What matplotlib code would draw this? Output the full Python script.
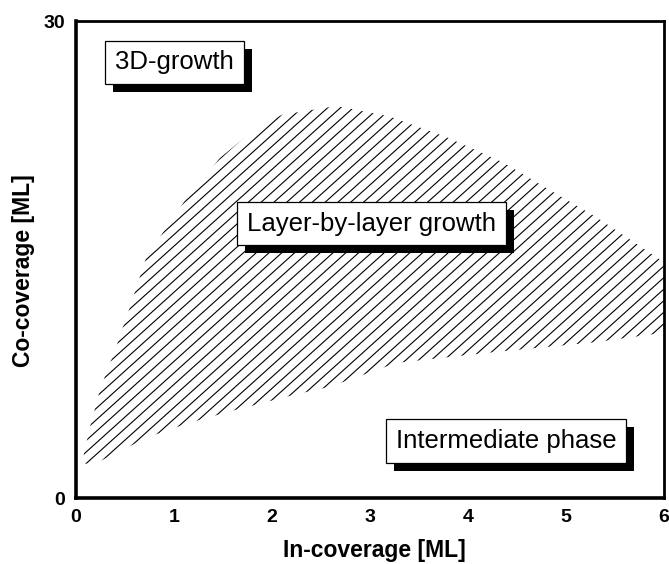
import numpy as np
import matplotlib
matplotlib.use('Agg')
import matplotlib.pyplot as plt
import matplotlib.patheffects as pe

# Layer-by-layer growth region, In-coverage vs Co-coverage in ML
upper_x = [0.06, 0.14, 0.24, 0.31, 0.40, 0.47, 0.55, 0.64, 0.72, 0.91, 1.11, 1.47, 1.85,
           2.10, 2.60, 2.70, 3.20, 3.78, 4.36, 4.77, 5.30, 5.96, 6.00]
upper_y = [2.2, 4.4, 6.7, 7.9, 9.3, 10.6, 12.0, 13.7, 15.2, 16.9, 18.7, 21.4, 23.3,
           24.1, 24.6, 24.6, 24.0, 22.7, 21.1, 19.6, 17.7, 15.0, 14.8]
lower_x = [0.06, 0.17, 0.47, 0.72, 1.14, 1.54, 2.23, 2.59, 3.27, 4.30, 5.30, 6.00]
lower_y = [2.2, 2.1, 3.0, 3.8, 4.7, 5.4, 6.5, 7.0, 8.5, 9.2, 9.8, 10.4]

x_ticks = [0, 1, 2, 3, 4, 5, 6]
y_ticks = [0, 30]

plt.rcParams['font.family'] = ['Liberation Sans', 'DejaVu Sans']

fig = plt.figure(figsize=(6.69, 5.64), dpi=100)
ax = fig.add_axes([0.1136, 0.117, 0.879, 0.8457])

# region outline used only as clip path for the hatching
poly_x = upper_x + lower_x[::-1]
poly_y = upper_y + lower_y[::-1]
region = ax.fill(poly_x, poly_y, facecolor='none', edgecolor='none')[0]

# hand-made hatching (~42 deg, ~13 px apart horizontally)
bb = ax.get_position()
w_px = bb.width * fig.get_figwidth() * fig.dpi
h_px = bb.height * fig.get_figheight() * fig.dpi
slope = np.tan(np.radians(42)) * w_px / h_px
step = slope * 12.8 / w_px
for c in np.arange(-1.3, 1.0, step):
    ln, = ax.plot([0, 1], [c, c + slope], color='black', lw=0.8,
                  transform=ax.transAxes)
    ln.set_clip_path(region)

ax.set_xlim(0, 6)
ax.set_ylim(0, 30)
ax.set_xticks(x_ticks)
ax.set_yticks(y_ticks)
ax.tick_params(length=0, labelsize=14)
ax.tick_params(axis='x', pad=8)
ax.tick_params(axis='y', pad=8)
for lab in ax.get_xticklabels() + ax.get_yticklabels():
    lab.set_fontweight('bold')

for side in ['left', 'bottom']:
    ax.spines[side].set_linewidth(2.6)
for side in ['top', 'right']:
    ax.spines[side].set_linewidth(2.0)

ax.set_xlabel('In-coverage [ML]', fontsize=16.5, fontweight='bold', va='center')
ax.set_ylabel('Co-coverage [ML]', fontsize=16.5, fontweight='bold', va='center')
ax.xaxis.set_label_coords(0.508, -0.111)
ax.yaxis.set_label_coords(-0.090, 0.476)

shadow = [pe.SimplePatchShadow(offset=(5.8, -5.8), shadow_rgbFace='black', alpha=1.0),
          pe.Normal()]

def box_label(x, y, s):
    t = ax.text(x, y, s, fontsize=18.5, ha='center', va='center', zorder=5,
                bbox=dict(boxstyle='square,pad=0.38', facecolor='white',
                          edgecolor='black', linewidth=0.9))
    t.get_bbox_patch().set_path_effects(shadow)
    return t

box_label(1.005, 27.4, '3D-growth')
box_label(3.015, 17.26, 'Layer-by-layer growth')
box_label(4.39, 3.58, 'Intermediate phase')

fig.savefig('out.png', dpi=100)
